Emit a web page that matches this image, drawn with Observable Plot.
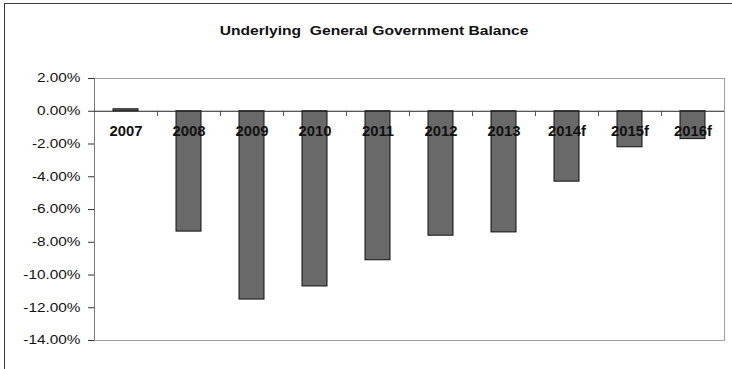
<!DOCTYPE html>
<html>
<head>
<meta charset="utf-8">
<script src="https://cdn.jsdelivr.net/npm/d3@7"></script>
<script src="https://cdn.jsdelivr.net/npm/@observablehq/plot@0.6"></script>
<style>
  html, body { margin: 0; padding: 0; background: #fff; }
  #wrap { position: relative; width: 732px; height: 369px; overflow: hidden; font-family: "Liberation Sans", Arial, sans-serif; }
  #border { position: absolute; left: 4px; top: 3px; width: 800px; height: 400px; border-left: 1px solid #3a3a3a; border-top: 1px solid #3a3a3a; pointer-events: none; }
  #title { position: absolute; left: 374px; top: 30px; transform: translate(-50%, -50%) scaleX(1.2); white-space: pre; font-weight: bold; font-size: 13px; color: #111; }
  #chart { position: absolute; left: 0; top: 0; }
</style>
</head>
<body>
<div id="wrap">
  <div id="chart"></div>
  <div id="border"></div>
  <div id="title">Underlying  General Government Balance</div>
</div>
<script>
const years = ["2007", "2008", "2009", "2010", "2011", "2012", "2013", "2014f", "2015f", "2016f"];
const balance = [0.12, -7.35, -11.5, -10.7, -9.1, -7.6, -7.4, -4.3, -2.2, -1.7];
const yTicks = [2, 0, -2, -4, -6, -8, -10, -12, -14];

const data = years.map((year, i) => ({year, value: balance[i]}));

const plot = Plot.plot({
  width: 732,
  height: 369,
  marginLeft: 94,
  marginRight: 8,
  marginTop: 78,
  marginBottom: 29,
  style: {fontFamily: "Liberation Sans, Arial, sans-serif", background: "transparent"},
  x: {domain: years, paddingInner: 0.6, paddingOuter: 0.3, axis: null},
  y: {domain: [-14, 2], axis: null},
  marks: [
    Plot.frame({stroke: "#a0a0a0"}),
    Plot.ruleX([years[0]], {dx: -31.5, y1: -14, y2: 2, stroke: "#7a7a7a"}),
    Plot.axisY(yTicks, {
      label: null,
      tickSize: 6,
      tickPadding: 8,
      fontSize: 12,
      stroke: "#333",
      fill: "#111",
      tickFormat: d => d.toFixed(2) + "%"
    }),
    Plot.barY(data, {x: "year", y: "value", fill: "#696969", stroke: "#111", strokeWidth: 1}),
    Plot.ruleY([0], {stroke: "#222", strokeWidth: 1}),
    Plot.ruleX(years.slice(0, -1), {x: d => d, dx: 31.5, y1: 0, y2: -0.32, stroke: "#555"}),
    Plot.text(data, {x: "year", y: 0, text: "year", dy: 20, fontSize: 14, fontWeight: "bold", fill: "#111"})
  ]
});

document.getElementById("chart").appendChild(plot);

function stretch(sel, sx) {
  d3.select(plot).selectAll(sel).each(function () {
    const t = this.getAttribute("transform");
    if (t) {
      this.setAttribute("transform", t + ` scale(${sx},1)`);
    } else {
      const x = +this.getAttribute("x") || 0;
      const y = +this.getAttribute("y") || 0;
      this.setAttribute("x", 0);
      this.setAttribute("y", 0);
      this.setAttribute("transform", `translate(${x},${y}) scale(${sx},1)`);
    }
  });
}
stretch('g[aria-label="y-axis tick label"] text', 1.28);
stretch('g[aria-label="text"] text', 1.06);
</script>
</body>
</html>
